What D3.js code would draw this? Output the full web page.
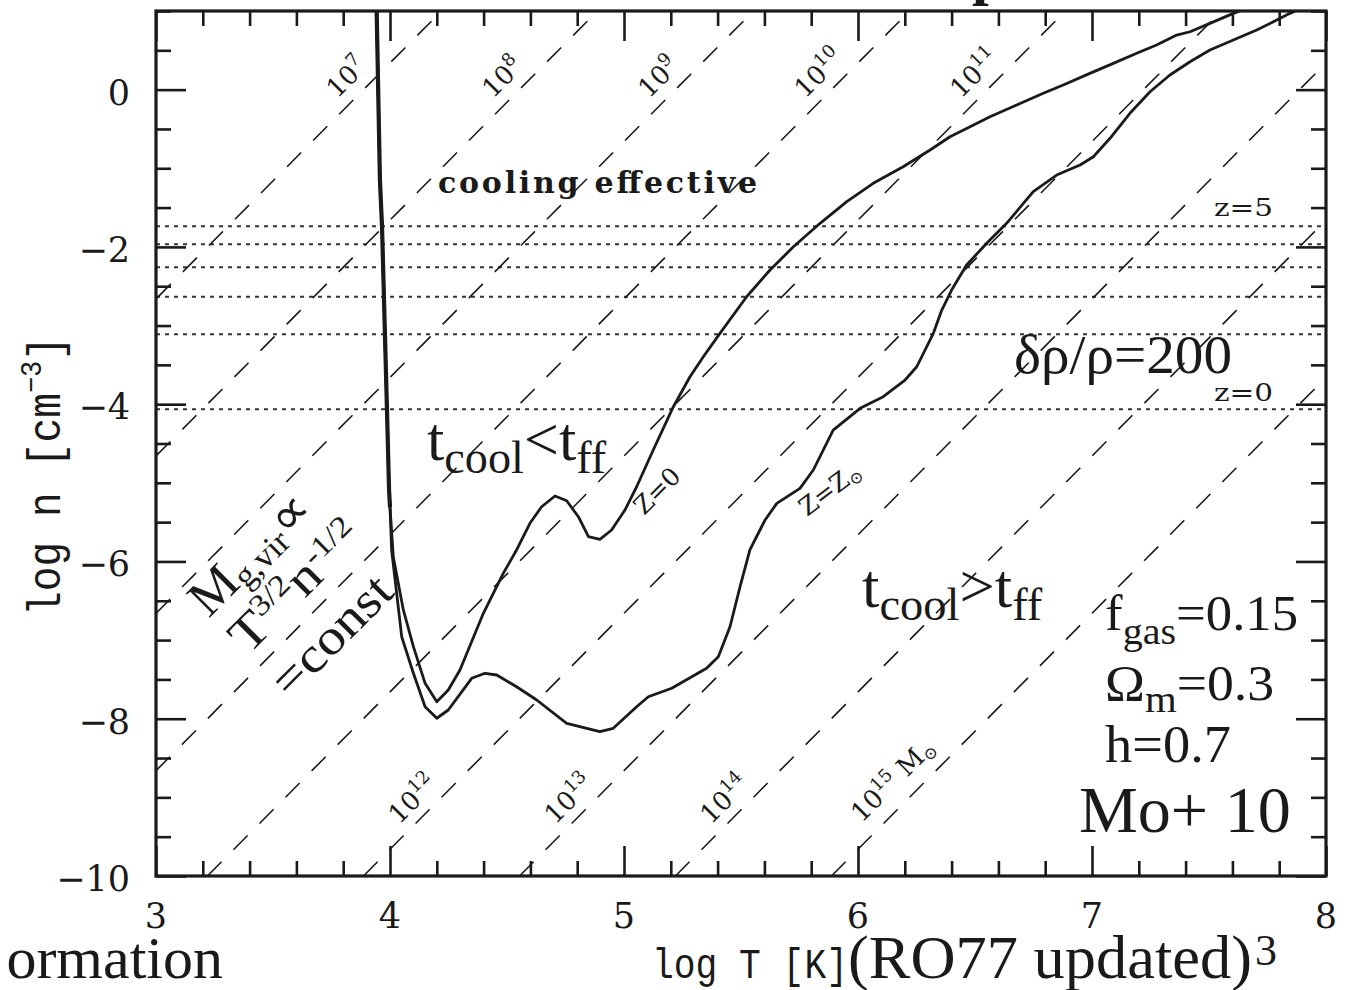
<!DOCTYPE html>
<html>
<head>
<meta charset="utf-8">
<script src="https://cdn.jsdelivr.net/npm/d3@7"></script>
<style>
  body { margin: 0; background: #fff; }
  svg { display: block; }
</style>
</head>
<body>
<svg id="chart" width="1355" height="990"></svg>
<script>
// ---- axis ranges and tick values ----
const xDomain = [3, 8];            // log T [K]
const yDomain = [-10, 1];          // log n [cm^-3]
const xTickLabels = [3, 4, 5, 6, 7, 8];
const yTickLabels = [0, -2, -4, -6, -8, -10];

// ---- cooling curves (log T, log n) where t_cool = t_ff ----
// branch shared by both metallicities along the 10^4 K cut-off
const coldBranch = [
  [3.943, 1.0], [3.957, -1.150], [3.966, -1.747], [3.987, -4.062],
  [3.996, -5.092], [4.000, -5.308]
];
// primordial gas, Z = 0
const zeroMetal = [
  [4.014, -5.940], [4.057, -6.617], [4.100, -7.084], [4.150, -7.550], [4.200, -7.784],
  [4.249, -7.635], [4.299, -7.380], [4.399, -6.659], [4.484, -6.151], [4.541, -5.854],
  [4.598, -5.515], [4.648, -5.304], [4.705, -5.168], [4.755, -5.228], [4.805, -5.431],
  [4.848, -5.685], [4.897, -5.718], [4.947, -5.600], [5.004, -5.346], [5.054, -5.050],
  [5.125, -4.583], [5.211, -4.032], [5.282, -3.651], [5.339, -3.397], [5.410, -3.099],
  [5.524, -2.634], [5.624, -2.294], [5.724, -1.998], [5.838, -1.700], [5.952, -1.425],
  [6.065, -1.191], [6.193, -0.980], [6.308, -0.768], [6.393, -0.599], [6.479, -0.472],
  [6.564, -0.345], [6.678, -0.196], [6.792, -0.047], [6.877, 0.058], [6.991, 0.207],
  [7.091, 0.334], [7.191, 0.462], [7.276, 0.567], [7.362, 0.694], [7.419, 0.736],
  [7.504, 0.843], [7.604, 0.970], [7.632, 1.0]
];
// solar metallicity, Z = Z_sun
const solarMetal = [
  [4.007, -5.854], [4.050, -6.957], [4.100, -7.422], [4.150, -7.847], [4.200, -7.994],
  [4.249, -7.889], [4.349, -7.486], [4.406, -7.422], [4.456, -7.444], [4.541, -7.593],
  [4.627, -7.762], [4.755, -8.058], [4.897, -8.165], [4.954, -8.122], [5.054, -7.847],
  [5.104, -7.720], [5.204, -7.613], [5.353, -7.359], [5.403, -7.211], [5.453, -6.830],
  [5.496, -6.321], [5.538, -5.854], [5.581, -5.600], [5.603, -5.473], [5.653, -5.261],
  [5.752, -5.070], [5.809, -4.837], [5.894, -4.329], [6.009, -4.053], [6.108, -3.905],
  [6.201, -3.693], [6.251, -3.524], [6.322, -3.099], [6.358, -2.803], [6.400, -2.549],
  [6.464, -2.230], [6.550, -1.954], [6.635, -1.700], [6.749, -1.298], [6.849, -1.086],
  [6.949, -0.959], [7.006, -0.853], [7.077, -0.619], [7.162, -0.301], [7.248, -0.027],
  [7.333, 0.186], [7.419, 0.355], [7.504, 0.504], [7.604, 0.631], [7.704, 0.758],
  [7.775, 0.863], [7.846, 0.970], [7.868, 1.0]
];

// ---- constant halo gas mass lines, M ~ T^{3/2} n^{-1/2} (slope 3 in log-log) ----
const massExponent = [7, 8, 9, 10, 11, 12, 13, 14, 15];
const massLineT0   = [3.887, 4.553, 5.220, 5.887, 6.553, 7.220, 7.887, 8.553, 9.220]; // log T at log n = 0
const massLabelN   = [-0.12, -0.12, -0.12, -0.12, -0.12, -9.35, -9.35, -9.35, -9.33];
const massLineSlope = 3;

// ---- densities of virialised haloes (delta rho / rho = 200) for z = 5 ... 0 ----
const overdensityLogN = [-1.737, -1.967, -2.260, -2.633, -3.112, -4.065];

// ---------------------------------------------------------------
const ink = '#1a1a1a';
const timesFont = "'Liberation Serif', 'Times New Roman', serif";
const smFont = "'DejaVu Serif', serif";
const monoFont = "'Liberation Mono', 'Courier New', monospace";

const svg = d3.select('#chart');
const box = { left: 156, top: 11, right: 1326, bottom: 876 };

const x = d3.scaleLinear().domain(xDomain).range([box.left, box.right]);
const y = d3.scaleLinear().domain(yDomain).range([box.bottom, box.top]);

svg.append('rect').attr('width', 1355).attr('height', 990).attr('fill', '#fff');

svg.append('clipPath').attr('id', 'plotClip').append('rect')
  .attr('x', box.left).attr('y', box.top)
  .attr('width', box.right - box.left).attr('height', box.bottom - box.top);

const plot = svg.append('g').attr('clip-path', 'url(#plotClip)');

// dotted lines: virial densities at different redshifts
plot.selectAll('line.dens').data(overdensityLogN).join('line')
  .attr('class', 'dens')
  .attr('x1', x(xDomain[0])).attr('x2', x(xDomain[1]))
  .attr('y1', d => y(d)).attr('y2', d => y(d))
  .attr('stroke', '#333').attr('stroke-width', 2)
  .attr('stroke-dasharray', '4 5');

// dashed lines of constant halo mass
const massLines = massExponent.map((e, i) => ({ e, t0: massLineT0[i], labelN: massLabelN[i] }));
plot.selectAll('line.mass').data(massLines).join('line')
  .attr('class', 'mass')
  .attr('x1', d => x(d.t0 + yDomain[0] / massLineSlope)).attr('y1', y(yDomain[0]))
  .attr('x2', d => x(d.t0 + yDomain[1] / massLineSlope)).attr('y2', y(yDomain[1]))
  .attr('stroke', ink).attr('stroke-width', 1.6)
  .attr('stroke-dasharray', '20 17');

// cooling curves
const line = d3.line().x(d => x(d[0])).y(d => y(d[1]));
plot.append('path').datum(coldBranch.concat(solarMetal))
  .attr('d', line).attr('fill', 'none').attr('stroke', ink).attr('stroke-width', 2.8)
  .attr('stroke-linejoin', 'round');
plot.append('path').datum(coldBranch.concat(zeroMetal))
  .attr('d', line).attr('fill', 'none').attr('stroke', ink).attr('stroke-width', 2.8)
  .attr('stroke-linejoin', 'round');
plot.append('path').datum(coldBranch)
  .attr('d', line).attr('fill', 'none').attr('stroke', ink).attr('stroke-width', 4.2);

// ---- frame and ticks ----
function tickAxis(axisGen, transform, values, size) {
  const g = svg.append('g').attr('transform', transform)
    .call(axisGen.tickValues(values).tickSize(-size).tickFormat(''));
  g.select('.domain').remove();
  g.selectAll('.tick line').attr('stroke', ink).attr('stroke-width', 2.6);
  return g;
}
const xMinor = d3.range(30, 81, 2).map(v => v / 10).filter(v => !xTickLabels.includes(v));
const yMinor = d3.range(-20, 3, 1).map(v => v / 2).filter(v => v <= 1 && !yTickLabels.includes(v));

tickAxis(d3.axisBottom(x), `translate(0,${box.bottom})`, xTickLabels, 30);
tickAxis(d3.axisBottom(x), `translate(0,${box.bottom})`, xMinor, 15);
tickAxis(d3.axisTop(x), `translate(0,${box.top})`, xTickLabels, 30);
tickAxis(d3.axisTop(x), `translate(0,${box.top})`, xMinor, 15);
tickAxis(d3.axisLeft(y), `translate(${box.left},0)`, yTickLabels, 30);
tickAxis(d3.axisLeft(y), `translate(${box.left},0)`, yMinor, 15);
tickAxis(d3.axisRight(y), `translate(${box.right},0)`, yTickLabels, 30);
tickAxis(d3.axisRight(y), `translate(${box.right},0)`, yMinor, 15);

svg.append('rect')
  .attr('x', box.left).attr('y', box.top)
  .attr('width', box.right - box.left).attr('height', box.bottom - box.top)
  .attr('fill', 'none').attr('stroke', ink).attr('stroke-width', 3.2);

// tick labels
const fmt = d3.format('d');
svg.append('g').selectAll('text').data(xTickLabels).join('text')
  .attr('x', d => x(d)).attr('y', box.bottom + 52)
  .attr('text-anchor', 'middle')
  .attr('font-family', smFont).attr('font-size', 35).attr('fill', ink)
  .text(d => fmt(d));
svg.append('g').selectAll('text').data(yTickLabels).join('text')
  .attr('x', box.left - 26).attr('y', d => y(d) + 15)
  .attr('text-anchor', 'end')
  .attr('font-family', smFont).attr('font-size', 35).attr('fill', ink)
  .text(d => fmt(d));

// ---- helpers for annotation text ----
function rich(parent, parts, family, anchor) {
  const t = parent.append('text').attr('font-family', family).attr('fill', ink);
  if (anchor) t.attr('text-anchor', anchor);
  let shift = 0;
  for (const p of parts) {
    const s = t.append('tspan').attr('font-size', p.size).text(p.t);
    if (p.weight) s.attr('font-weight', p.weight);
    const target = p.dy || 0;
    if (target - shift) s.attr('dy', target - shift);
    shift = target;
  }
  return t;
}
function squeeze(t, width) {
  const w = t.node().getBBox().width;
  if (w > 0) t.attr('transform', `scale(${width / w},1)`);
  return t;
}
function at(px, py, rot) {
  return svg.append('g').attr('transform', `translate(${px},${py})` + (rot ? ` rotate(${rot})` : ''));
}
function atData(t, n, rot) { return at(x(t), y(n), rot); }

// axis titles
squeeze(rich(at(60, 476, -90), [
  { t: 'log n [cm', size: 46 }, { t: '\u22123', size: 30, dy: -19 }, { t: ']', size: 46, dy: 0 }
], monoFont, 'middle'), 280);
squeeze(rich(at(652, 978), [{ t: 'log T [K]', size: 42 }], monoFont), 196);

// mass labels along the dashed lines
massLines.forEach(d => {
  const n = d.labelN;
  const px = x(d.t0 + n / massLineSlope) - (d.e === 15 ? 22 : (d.e > 11 ? 15 : 17));
  const parts = [{ t: '10', size: 26 }, { t: String(d.e), size: 18, dy: -11 }];
  if (d.e === 15) {
    parts.push({ t: ' M', size: 26, dy: 0 }, { t: '\u2299', size: 17, dy: 5 });
  }
  rich(at(px, y(n), -45), parts, smFont);
});

// region labels
atData(4.205, -1.315).append('text')
  .attr('font-family', smFont).attr('font-size', 30).attr('font-weight', 'bold')
  .attr('fill', ink).attr('textLength', 319).attr('lengthAdjust', 'spacing')
  .text('cooling effective');

squeeze(rich(atData(4.158, -4.710), [
  { t: 't', size: 62 }, { t: 'cool', size: 46, dy: 13 }, { t: '<t', size: 62, dy: 0 }, { t: 'ff', size: 46, dy: 13 }
], timesFont), 180);

squeeze(rich(atData(6.017, -6.579), [
  { t: 't', size: 62 }, { t: 'cool', size: 46, dy: 13 }, { t: '>t', size: 62, dy: 0 }, { t: 'ff', size: 46, dy: 13 }
], timesFont), 181);

squeeze(rich(atData(6.667, -3.604), [{ t: '\u03b4\u03c1/\u03c1=200', size: 54 }], timesFont), 218);

squeeze(rich(atData(7.521, -1.607), [{ t: 'z=5', size: 24 }], smFont), 59);
squeeze(rich(atData(7.521, -3.960), [{ t: 'z=0', size: 24 }], smFont), 59);

// curve labels
rich(atData(5.085, -5.422, -45), [{ t: 'Z=0', size: 25 }], smFont);
rich(atData(5.782, -5.435, -37), [{ t: 'Z=Z', size: 25 }, { t: '\u2299', size: 17, dy: 4 }], smFont);

// cosmological parameters
squeeze(rich(atData(7.056, -6.872), [
  { t: 'f', size: 50 }, { t: 'gas', size: 38, dy: 14 }, { t: '=0.15', size: 50, dy: 0 }
], timesFont), 193);
squeeze(rich(atData(7.056, -7.762), [
  { t: '\u03a9', size: 50 }, { t: 'm', size: 38, dy: 12 }, { t: '=0.3', size: 50, dy: 0 }
], timesFont), 169);
squeeze(rich(atData(7.056, -8.551), [{ t: 'h=0.7', size: 52 }], timesFont), 126);
squeeze(rich(atData(6.944, -9.440), [{ t: 'Mo+ 10', size: 66 }], timesFont), 212);

// virial mass relation, written along the dashed lines
const rel = atData(3.573, -7.762, -45);
squeeze(rich(rel.append('g').attr('transform', 'translate(0,-115)'), [
  { t: 'M', size: 52 }, { t: 'g,vir', size: 34, dy: 6 }, { t: '\u221d', size: 52, dy: 0 }
], timesFont), 150);
squeeze(rich(rel.append('g').attr('transform', 'translate(2,-61)'), [
  { t: 'T', size: 50 }, { t: '3/2', size: 30, dy: -18 }, { t: 'n', size: 50, dy: 0 }, { t: '-1/2', size: 30, dy: -16 }
], timesFont), 165);
squeeze(rich(rel.append('g'), [{ t: '=const', size: 50 }], timesFont), 150);

// surrounding slide text
rich(at(223, 978), [{ t: 'ormation', size: 60 }], timesFont, 'end');
squeeze(rich(at(848, 978), [{ t: '(RO77 updated)', size: 61 }], timesFont), 404);
rich(at(1255, 965), [{ t: '3', size: 44 }], timesFont);
rich(at(972, -7), [{ t: 'p', size: 60, weight: 'bold' }], timesFont);
</script>
</body>
</html>
